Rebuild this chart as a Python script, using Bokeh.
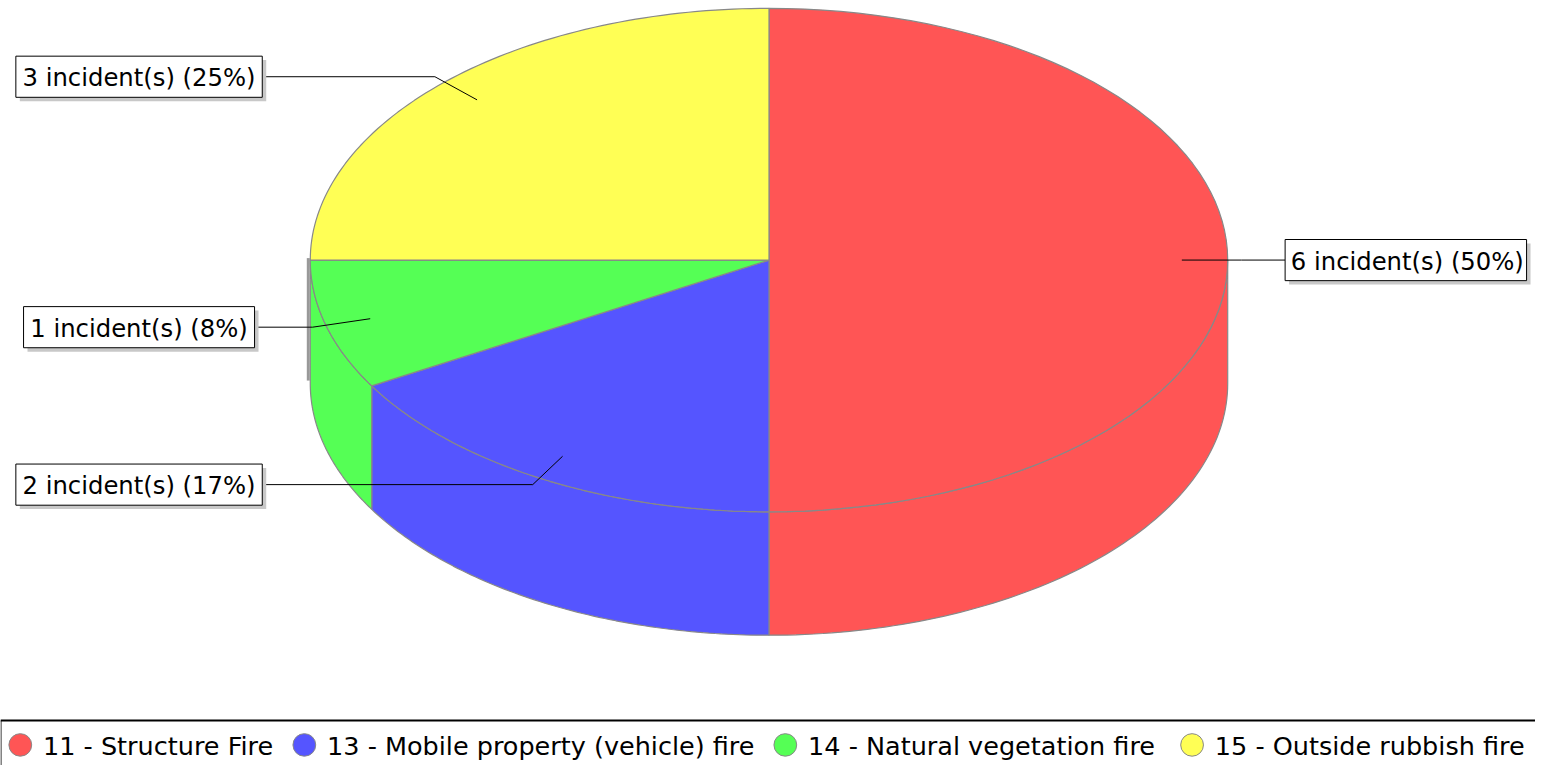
import math
from bokeh.plotting import figure
from bokeh.models import Range1d
from bokeh.embed import file_html
from bokeh.resources import INLINE
from bokeh.core.properties import value

# ---------------- data ----------------
categories = ["11 - Structure Fire", "13 - Mobile property (vehicle) fire",
              "14 - Natural vegetation fire", "15 - Outside rubbish fire"]
counts = [6, 2, 1, 3]
colors = ["#FF5555", "#5555FF", "#55FF55", "#FFFF55"]

# ---------------- layout constants ----------------
W, H = 1551, 781                 # reference canvas (data units)
CX, CY = 776.5, 265.0            # pie centre
RX, RY = 463.5, 257.0            # ellipse radii
DEPTH = 126.0                    # 3D depth
EDGE = "#888888"
FONT = "DejaVu Sans"
LABEL_PX = 24.5
LEGEND_MARKER_X = [20, 307, 793, 1204]   # legend item anchor positions

# DejaVu Sans advance widths (em)
CW = {' ': .318, '-': .361, '(': .390, ')': .390, '%': .950,
      'a': .613, 'b': .635, 'c': .550, 'd': .635, 'e': .615, 'f': .352, 'g': .635,
      'h': .634, 'i': .278, 'l': .278, 'n': .634, 'o': .612, 'p': .635, 'r': .411,
      's': .521, 't': .392, 'u': .634, 'v': .592, 'y': .592,
      'F': .575, 'M': .863, 'N': .748, 'O': .787, 'S': .635}


def text_w(s, px):
    return sum(CW.get(ch, .636) for ch in s) * px


def pt(theta, scale=1.0, dy=0.0):
    t = math.radians(theta)
    return CX + scale * RX * math.cos(t), CY - scale * RY * math.sin(t) + dy


def arc(a, b, dy=0.0, n=80):
    return [pt(a + (b - a) * i / n, 1.0, dy) for i in range(n + 1)]


p = figure(width=1535, height=765, x_range=Range1d(0, W), y_range=Range1d(H, 0),
           output_backend="svg", toolbar_location=None, min_border=0,
           x_axis_location=None, y_axis_location=None)
p.grid.visible = False
p.outline_line_color = None
p.background_fill_color = "white"
p.border_fill_color = "white"

total = float(sum(counts))
slices = []
start = 90.0
for c, col in zip(counts, colors):
    sweep = 360.0 * c / total
    slices.append((start, start - sweep, col, c))
    start -= sweep

# ---- side walls (front half: angles between -180 and 0) ----
wx, wy, wc = [], [], []
for a0, a1, col, c in slices:
    hi, lo = min(a0, 0.0), max(a1, -180.0)
    if hi > lo:
        poly = arc(hi, lo) + arc(lo, hi, DEPTH)
        wx.append([q[0] for q in poly])
        wy.append([q[1] for q in poly])
        wc.append(col)
p.patches(wx, wy, fill_color=wc, line_color=EDGE, line_width=1.2)
# left edge of the wall, seen edge-on
p.segment(x0=[CX - RX - 2], y0=[CY - 2], x1=[CX - RX - 2], y1=[CY + DEPTH - 3],
          line_color="#999999", line_width=3)

# ---- top faces ----
tx, ty, tc = [], [], []
for a0, a1, col, c in slices:
    poly = [(CX, CY)] + arc(a0, a1)
    tx.append([q[0] for q in poly])
    ty.append([q[1] for q in poly])
    tc.append(col)
p.patches(tx, ty, fill_color=tc, line_color=EDGE, line_width=1.2)

# ---- labels ----
lx, ly = [], []
box_l, box_r, box_t, box_b = [], [], [], []
txt_x, txt_y, txt = [], [], []
for a0, a1, col, c in slices:
    m = (a0 + a1) / 2.0
    ax_, ay_ = pt(m, 0.9)
    ex, ey = pt(m, 1.03)
    s = "%d incident(s) (%d%%)" % (c, round(100.0 * c / total))
    tw = text_w(s, LABEL_PX)
    if math.cos(math.radians(m)) < 0:
        cxb = 140.0
        l, r = cxb - tw / 2 - 7, cxb + tw / 2 + 7
        lx.append([ax_, ex, r]); ly.append([ay_, ey, ey])
        txt_x.append(cxb)
    else:
        l = 1298.0
        r = l + tw + 9
        lx.append([ax_, ex, l]); ly.append([ay_, ey, ey])
        txt_x.append(l + tw / 2 + 6)
    box_l.append(l); box_r.append(r); box_t.append(ey - 21); box_b.append(ey + 21)
    txt_y.append(ey + 1)
    txt.append(s)

p.multi_line(lx, ly, line_color="black", line_width=1)
p.quad(left=[v + 4 for v in box_l], right=[v + 4 for v in box_r],
       top=[v + 4 for v in box_t], bottom=[v + 4 for v in box_b],
       fill_color="#C8C8C8", line_color=None)
p.quad(left=box_l, right=box_r, top=box_t, bottom=box_b,
       fill_color="white", line_color="black", line_width=1)
p.text(x=txt_x, y=txt_y, text=txt, text_font=value(FONT),
       text_font_size=value("24.3px"),
       text_align="center", text_baseline="middle", text_color="black")

# ---- legend ----
LEG_TOP = 735.0
LEG_Y = 760.0
cxs = list(LEGEND_MARKER_X)
ltx = [v + 23 for v in cxs]
p.segment(x0=[0], y0=[LEG_TOP], x1=[W], y1=[LEG_TOP], line_color="black", line_width=2)
p.segment(x0=[0.5], y0=[LEG_TOP], x1=[0.5], y1=[H], line_color="black", line_width=1)
p.ellipse(x=cxs, y=[LEG_Y] * len(cxs), width=23, height=23, fill_color=colors,
          line_color=EDGE, line_width=1)
p.text(x=ltx, y=[LEG_Y + 1] * len(ltx), text=categories, text_font=value(FONT),
       text_font_size=value("25.5px"), text_align="left",
       text_baseline="middle", text_color="black")

open("out.html", "w").write(file_html(p, INLINE))
